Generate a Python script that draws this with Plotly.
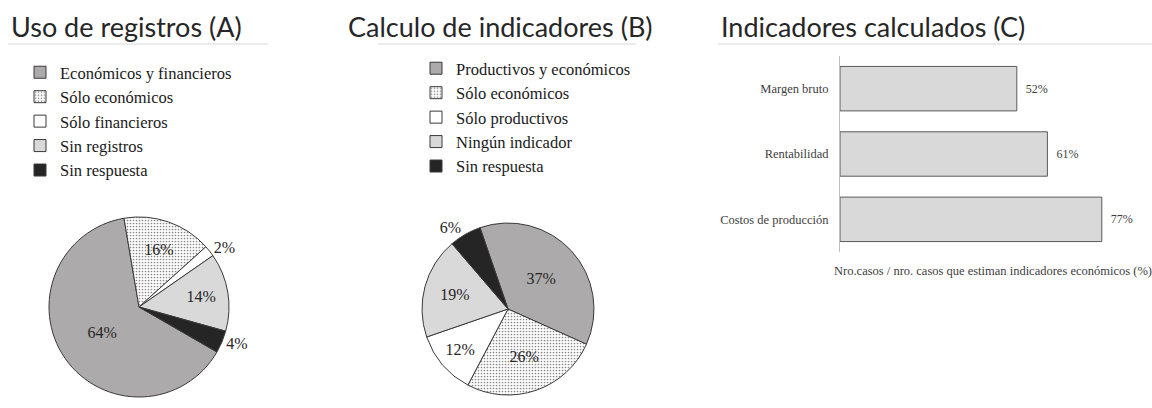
import plotly.graph_objects as go

W, H = 1152, 408

# ---- data ----
titles = ["Uso de registros (A)", "Calculo de indicadores (B)", "Indicadores calculados (C)"]

pieA_labels = ["Económicos y financieros", "Sólo económicos", "Sólo financieros", "Sin registros", "Sin respuesta"]
pieA_values = [64, 16, 2, 14, 4]

pieB_labels = ["Productivos y económicos", "Sólo económicos", "Sólo productivos", "Ningún indicador", "Sin respuesta"]
pieB_values = [37, 26, 12, 19, 6]

bar_categories = ["Margen bruto", "Rentabilidad", "Costos de producción"]
bar_values = [52, 61, 77]
bar_axis_title = "Nro.casos / nro. casos que estiman indicadores económicos (%)"

# ---- helpers ----
def px_x(x):
    return x / W

def px_y(y):
    return 1 - y / H

SERIF = "Liberation Serif"
TITLE_FONT = "Lato"

slice_colors = ["#acaaaa", "#eeeeee", "#ffffff", "#d9d9d9", "#252525"]
slice_patterns = dict(shape=["", ".", "", "", ""], fgcolor="#8a8a8a", size=3, solidity=0.25)

fig = go.Figure()

fig.add_trace(go.Pie(
    labels=pieA_labels, values=pieA_values, sort=False, direction="clockwise",
    rotation=120,
    marker=dict(colors=slice_colors, line=dict(color="#3a3a3a", width=1), pattern=slice_patterns),
    texttemplate="%{value}%", textinfo="text",
    textposition=["inside", "inside", "outside", "inside", "outside"],
    insidetextorientation="horizontal",
    textfont=dict(family=SERIF, size=16, color="#262626"),
    domain=dict(x=[px_x(49), px_x(229)], y=[px_y(397), px_y(217)]),
    legend="legend", hoverinfo="label+percent",
))

# zero-width space keeps legend entries of pie B separate from pie A's
fig.add_trace(go.Pie(
    labels=[lab + "\u200b" for lab in pieB_labels], values=pieB_values, sort=False,
    direction="clockwise", rotation=-19,
    marker=dict(colors=slice_colors, line=dict(color="#3a3a3a", width=1), pattern=slice_patterns),
    texttemplate="%{value}%", textinfo="text",
    textposition=["inside", "inside", "inside", "inside", "outside"],
    insidetextorientation="horizontal",
    textfont=dict(family=SERIF, size=16, color="#262626"),
    domain=dict(x=[px_x(422), px_x(594)], y=[px_y(395), px_y(223)]),
    legend="legend2", hoverinfo="label+percent",
))

fig.add_trace(go.Bar(
    x=bar_values, y=bar_categories, orientation="h",
    marker=dict(color="#d9d9d9", line=dict(color="#5a5a5a", width=1)),
    text=[f"  {v}%" for v in bar_values], textposition="outside", cliponaxis=False,
    textfont=dict(family=SERIF, size=12, color="#404040"),
    showlegend=False, xaxis="x", yaxis="y",
))

legend_common = dict(
    font=dict(family=SERIF, size=16.5, color="#1a1a1a"),
    bgcolor="rgba(0,0,0,0)", xanchor="left", yanchor="top",
    traceorder="normal", itemclick=False, itemdoubleclick=False,
)

fig.update_layout(
    width=W, height=H, margin=dict(l=0, r=0, t=0, b=0),
    paper_bgcolor="white", plot_bgcolor="white",
    legend=dict(x=px_x(20), y=px_y(55), **legend_common),
    legend2=dict(x=px_x(416), y=px_y(51), **legend_common),
    xaxis=dict(domain=[px_x(840), px_x(1146)], range=[0, 90], showticklabels=False,
               showgrid=False, zeroline=False, showline=False, ticks="",
               title=dict(text=bar_axis_title, font=dict(family=SERIF, size=12.5, color="#404040"),
                          standoff=14),
               anchor="y"),
    yaxis=dict(domain=[px_y(252), px_y(56)], autorange="reversed", showgrid=False,
               zeroline=False, showline=True, linecolor="#bfbfbf", linewidth=1,
               ticks="", ticklabelstandoff=8,
               tickfont=dict(family=SERIF, size=12.5, color="#404040"), anchor="x"),
    bargap=0.32,
    showlegend=True,
)

# titles and their underlines
title_pos = [(9, 8, 268), (346, 378, 636), (719, 718, 1152)]
for t, (tx, l0, l1) in zip(titles, title_pos):
    fig.add_annotation(text=t, x=px_x(tx), y=px_y(27), xref="paper", yref="paper",
                       xanchor="left", yanchor="middle", showarrow=False,
                       font=dict(family=TITLE_FONT, size=27, color="#262626"))
    fig.add_shape(type="line", xref="paper", yref="paper",
                  x0=px_x(l0), x1=px_x(l1), y0=px_y(44), y1=px_y(44),
                  line=dict(color="#d6d6d6", width=1))

fig.write_html("out.html", config={"displayModeBar": False},
               post_script="document.body.style.margin='0';")
